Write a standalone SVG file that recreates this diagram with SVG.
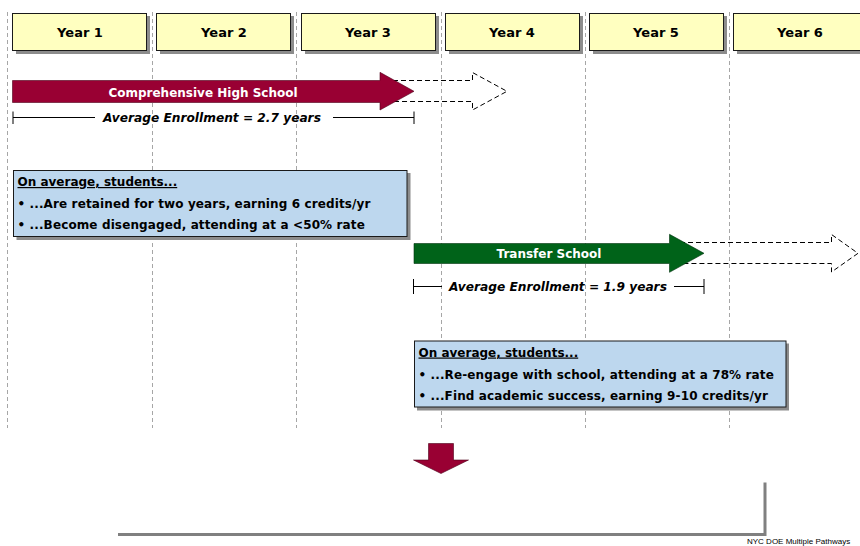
<svg xmlns="http://www.w3.org/2000/svg" width="860" height="546" viewBox="0 0 860 546">
<style>
.grid{stroke:#a6a6a6;stroke-width:1;stroke-dasharray:4 3;fill:none}
.yr{fill:#ffffc0;stroke:#1a1a1a;stroke-width:1}
.shd{fill:#8c8c8c}
.yt{font-family:"DejaVu Sans",Verdana,sans-serif;font-weight:bold;font-size:13px;fill:#000;text-anchor:middle}
.at{font-family:"DejaVu Sans",Verdana,sans-serif;font-weight:bold;font-size:12px;fill:#fff;text-anchor:middle}
.et{font-family:"DejaVu Sans",Verdana,sans-serif;font-weight:bold;font-style:italic;font-size:12.2px;fill:#000}
.bt{font-family:"DejaVu Sans",Verdana,sans-serif;font-weight:bold;font-size:12px;fill:#000}
.bl{font-family:"DejaVu Sans",Verdana,sans-serif;font-weight:bold;font-size:12px;letter-spacing:0.12px;fill:#000}
.box{fill:#bdd7ee;stroke:#1a1a1a;stroke-width:1}
.dash{fill:none;stroke:#000;stroke-width:1;stroke-dasharray:5 3}
.ln{stroke:#000;stroke-width:1;fill:none}
</style>
<g id="grid">
<line class="grid" x1="7.5" y1="12" x2="7.5" y2="428"/>
<line class="grid" x1="152.5" y1="12" x2="152.5" y2="428"/>
<line class="grid" x1="296.5" y1="12" x2="296.5" y2="428"/>
<line class="grid" x1="441.5" y1="12" x2="441.5" y2="428"/>
<line class="grid" x1="585.5" y1="12" x2="585.5" y2="428"/>
<line class="grid" x1="729.5" y1="12" x2="729.5" y2="428"/>
</g>
<g id="year1"><rect class="shd" x="16" y="16" width="134" height="38"/><rect class="yr" x="12.5" y="13.5" width="134" height="37"/><text class="yt" x="80" y="37">Year 1</text></g>
<g id="year2"><rect class="shd" x="160" y="16" width="134" height="38"/><rect class="yr" x="156.5" y="13.5" width="134" height="37"/><text class="yt" x="224" y="37">Year 2</text></g>
<g id="year3"><rect class="shd" x="305" y="16" width="134" height="38"/><rect class="yr" x="301.5" y="13.5" width="134" height="37"/><text class="yt" x="368" y="37">Year 3</text></g>
<g id="year4"><rect class="shd" x="449" y="16" width="134" height="38"/><rect class="yr" x="445.5" y="13.5" width="134" height="37"/><text class="yt" x="512" y="37">Year 4</text></g>
<g id="year5"><rect class="shd" x="593" y="16" width="134" height="38"/><rect class="yr" x="589.5" y="13.5" width="134" height="37"/><text class="yt" x="656" y="37">Year 5</text></g>
<g id="year6"><rect class="shd" x="737" y="16" width="134" height="38"/><rect class="yr" x="733.5" y="13.5" width="134" height="37"/><text class="yt" x="800" y="37">Year 6</text></g>

<g id="connectors">
<path class="dash" d="M385,80.5 H472.5 V72.5 L507,91.3 L472.5,110 V101.5 H385"/>
<path class="dash" d="M680,242.5 H831.5 V234.5 L858,253.3 L831.5,272 V263.5 H680"/>
<path class="ln" d="M13,117.5 H95 M333,117.5 H414 M13,111.5 V124 M414,111.5 V124"/>
<path class="ln" d="M413.5,286.5 H442 M674,286.5 H704 M413.5,279 V294 M704,279 V294"/>
</g>

<g id="comprehensive">
<path d="M12.5,80.5 H380 V72.3 L414,91.3 L380,110 V102.5 H12.5 Z" fill="#990033" stroke="#4d0019" stroke-width="0.6"/>
<text class="at" x="203" y="96.5">Comprehensive High School</text>
</g>
<g id="enroll1"><text class="et" x="103" y="122">Average Enrollment = 2.7 years</text></g>

<g id="box1">
<rect class="shd" x="16.5" y="173" width="394" height="67"/>
<rect class="box" x="13.5" y="170.5" width="393.5" height="66"/>
<text class="bt" x="17.5" y="186" text-decoration="underline">On average, students...</text>
<text class="bl" x="17.5" y="208">• ...Are retained for two years, earning 6 credits/yr</text>
<text class="bl" x="17.5" y="228.5">• ...Become disengaged, attending at a &lt;50% rate</text>
</g>

<g id="transfer">
<path d="M414,243.5 H669.5 V234.3 L704,253.3 L669.5,272.3 V263.5 H414 Z" fill="#006319" stroke="#00330d" stroke-width="0.6"/>
<text class="at" x="549" y="258">Transfer School</text>
</g>
<g id="enroll2"><text class="et" x="449" y="291">Average Enrollment = 1.9 years</text></g>

<g id="box2">
<rect class="shd" x="417" y="343.5" width="372" height="67"/>
<rect class="box" x="414.5" y="341" width="371.5" height="66"/>
<text class="bt" x="418.5" y="356.5" text-decoration="underline">On average, students...</text>
<text class="bl" x="418.5" y="378.5">• ...Re-engage with school, attending at a 78% rate</text>
<text class="bl" x="418.5" y="399.5">• ...Find academic success, earning 9-10 credits/yr</text>
</g>

<g id="downarrow">
<path d="M428.5,443.5 H453.5 V460 H468.5 L441,473.5 L413.5,460 H428.5 Z" fill="#990033" stroke="#4d0019" stroke-width="0.6"/>
</g>

<g id="bracket">
<path d="M118,534.5 H765 V482.5" fill="none" stroke="#808080" stroke-width="3"/>
</g>
<text x="747" y="543.5" font-family="'Liberation Sans',Arial,sans-serif" font-size="8" fill="#000">NYC DOE Multiple Pathways</text>
</svg>
